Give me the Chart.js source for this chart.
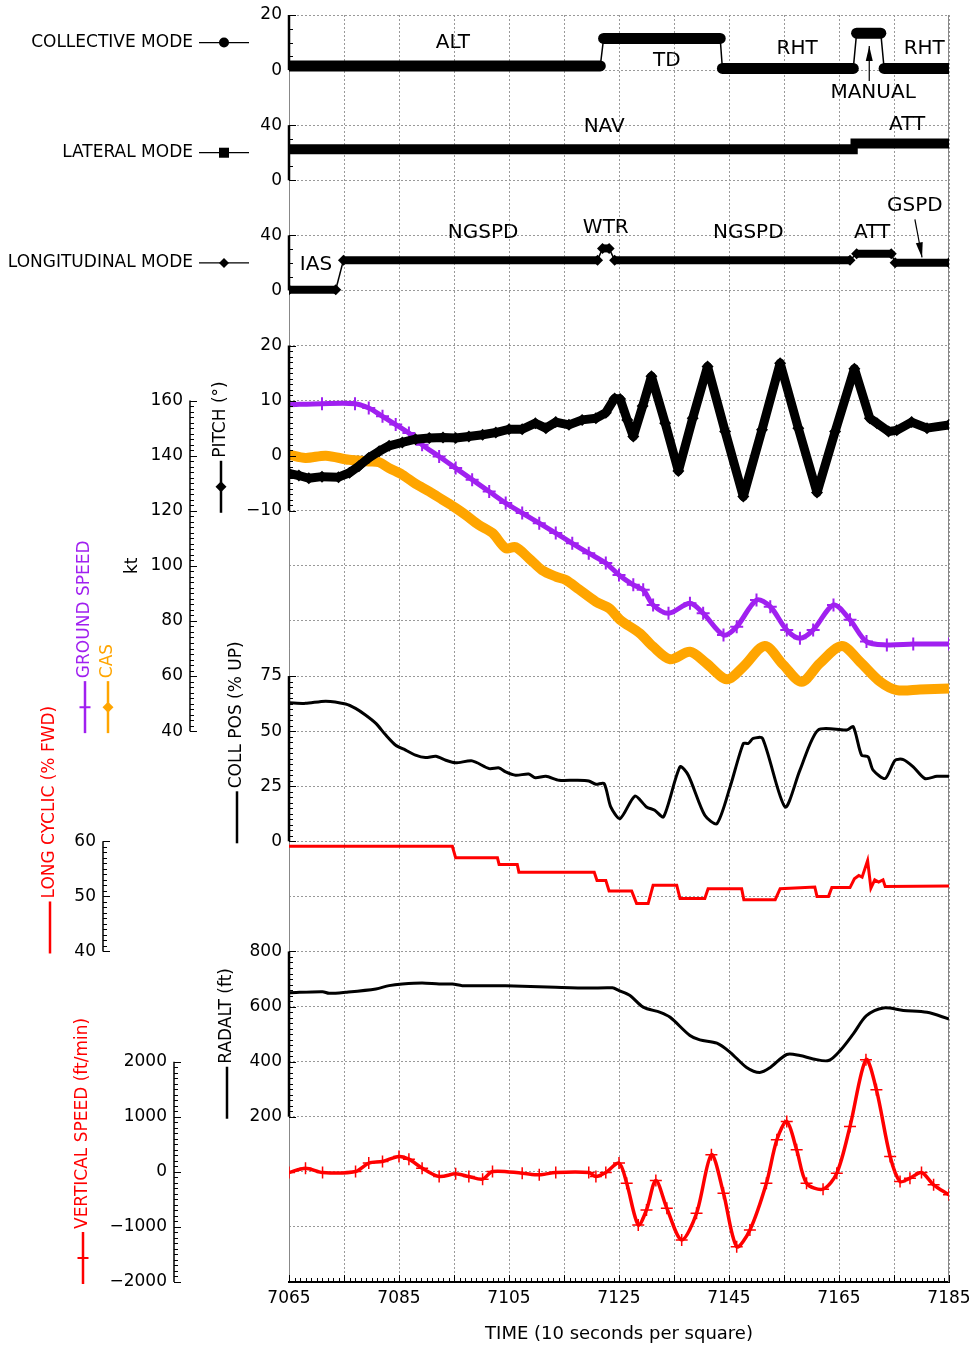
<!DOCTYPE html>
<html>
<head>
<meta charset="utf-8">
<script src="https://cdn.jsdelivr.net/npm/chart.js@4.4.1/dist/chart.umd.min.js"></script>
<style>
  html, body { margin: 0; padding: 0; background: #fff; }
  canvas { display: block; }
</style>
</head>
<body>
<canvas id="flight" width="974" height="1347"></canvas>
<script>
// ---- data: [time (s), value] ----
const collectiveMode = [[7065,1.5],[7121.6,1.5],[7122.2,11.5],[7143.4,11.5],[7143.8,0.6],[7167.6,0.6],[7168.2,13.4],[7172.6,13.4],[7173.2,0.6],[7185,0.6]];
const lateralMode = [[7065,22.5],[7167.5,22.5],[7168,26.7],[7185,26.7]];
const longitudinalMode = [[7065,0.5],[7073.5,0.5],[7074.9,22],[7121.1,22],[7122,30.5],[7123.2,30.5],[7124.2,22],[7167,22],[7168.2,26.7],[7174.5,26.7],[7175.2,20.1],[7185,20.1]];

const pitch = [[7065,-3.2],[7066.8,-3.6],[7068.6,-4.1],[7071,-3.8],[7074,-3.9],[7076,-3.1],[7077.7,-1.9],[7079.5,-0.4],[7081.4,0.8],[7083.2,1.8],[7085.6,2.4],[7088,3.0],[7090.5,3.2],[7093,3.3],[7095.3,3.2],[7097.7,3.5],[7100.2,3.8],[7102.6,4.2],[7105,4.8],[7107.4,4.8],[7109.8,5.9],[7111.7,5.0],[7113.5,6.1],[7115.9,5.6],[7118.3,6.5],[7120.8,6.8],[7122.6,7.8],[7124.2,10.4],[7125.2,10.3],[7126.5,6.5],[7127.6,3.5],[7129.3,9.0],[7130.9,14.4],[7133.4,5.9],[7135.8,-2.8],[7138.4,6.8],[7141.1,16.2],[7144.3,4.4],[7147.6,-7.4],[7151,4.7],[7154.3,16.8],[7157.6,5.0],[7161,-6.7],[7164.3,4.4],[7167.8,15.8],[7170.6,6.8],[7171.9,5.9],[7174,4.4],[7175.5,4.6],[7178.2,6.1],[7181,5.0],[7185,5.6]];

const groundSpeed = [[7065,158.5],[7071,158.9],[7077,158.9],[7079.5,157.3],[7082,154.3],[7084.4,151.3],[7086.8,148.2],[7089.2,144],[7092.3,139.7],[7095.3,135.5],[7098.3,131.3],[7101.4,127],[7104.4,122.8],[7107.4,119.2],[7110.5,115.5],[7113.5,111.9],[7116.5,108.2],[7119.5,104.6],[7122.6,101],[7125,96.7],[7127.6,93.1],[7129.4,91.3],[7131.2,85.8],[7134,82.8],[7137.9,86.4],[7140.3,82.8],[7144,74.9],[7146.4,77.9],[7150,87.6],[7152.5,85.2],[7155.5,76.7],[7157.9,73.7],[7160.3,76.7],[7164,85.8],[7167,80.4],[7170,72.5],[7173.7,71.3],[7178.5,71.6],[7185,71.6]];

const cas = [[7065,140.4],[7068,139.2],[7071.7,140],[7075.9,138.5],[7079.5,137.9],[7081.4,137.6],[7083.2,135.5],[7085.6,133.1],[7088,129.8],[7090.5,127],[7092.9,124],[7095.3,121],[7097.1,118.5],[7099.5,114.9],[7102,111.9],[7104.4,106.4],[7106.2,106.8],[7108.6,102.8],[7111,98.5],[7113.5,96.1],[7115.3,94.9],[7117.7,91.5],[7120.8,87],[7123.2,84.6],[7125.2,80.4],[7128.8,75.5],[7131.2,70.7],[7134.3,66.1],[7137.9,68.8],[7140.9,64.6],[7144.6,58.8],[7147.6,63.4],[7151.5,70.9],[7154.9,64],[7158.2,57.9],[7161.5,64.6],[7165.5,70.9],[7168.8,65.2],[7172.5,57.9],[7175.5,54.9],[7179.7,55.1],[7185,55.5]];

const collPos = [[7065,62.9],[7068,62.6],[7071.7,63.6],[7075.3,62.3],[7077.1,60.3],[7078.9,57.3],[7080.8,53.5],[7082.6,48.2],[7084.4,43.6],[7086.2,41.4],[7088,39.1],[7089.8,38],[7091.7,38.6],[7093.5,36.8],[7095.3,35.6],[7098.3,36.5],[7101.4,33],[7103.2,33.3],[7104.4,31.5],[7106.2,30],[7108.6,30.5],[7109.8,28.8],[7111.7,29.5],[7114.1,27.7],[7117.1,27.7],[7119.5,27.4],[7120.8,25.9],[7122.3,26.2],[7123.5,15.6],[7125.2,10.3],[7127.9,20.5],[7130,15.6],[7131.5,14.1],[7133.1,11.1],[7136.1,33.8],[7137.6,30],[7140.6,11.8],[7142.8,8.0],[7145.2,24.7],[7147.6,44.4],[7148.5,44.4],[7149.4,46.7],[7151.1,46.7],[7155.2,15.6],[7157.9,32.3],[7161.2,50.5],[7166.4,50.5],[7167.6,52],[7169.1,39.1],[7170.3,38.3],[7171.2,32.3],[7173.4,28.5],[7175.2,36.8],[7176.7,37.1],[7178.5,33.8],[7180.6,28.5],[7182.8,29.5],[7185,29.5]];

const longCyclic = [[7065,59.1],[7094.7,59.1],[7095.3,57],[7102.9,57],[7103.2,55.8],[7106.5,55.8],[7106.8,54.4],[7120.5,54.4],[7121,52.9],[7122.6,52.9],[7123.2,51],[7127.3,51],[7128.2,48.7],[7130.3,48.7],[7131.2,52],[7135.5,52],[7136.1,49.6],[7140.6,49.6],[7141.2,51.4],[7147.3,51.4],[7147.7,49.4],[7153.4,49.4],[7154.3,51.4],[7160.6,51.7],[7161,50],[7163.1,50],[7163.7,51.6],[7167,51.6],[7167.8,53.2],[7168.6,53.8],[7169.2,53.5],[7170.2,56.5],[7170.8,51.5],[7171.5,53],[7172.2,52.6],[7173,53],[7173.4,51.8],[7185,51.9]];

const radalt = [[7065,650],[7071.1,654],[7072.3,648],[7075.3,652],[7080.8,664],[7083.2,676],[7085.6,682],[7089.2,686],[7092.3,682],[7094.7,682],[7096.5,676],[7101.4,676],[7107.4,674],[7113.5,670],[7119.5,667],[7123.8,668],[7125,658],[7127,640],[7129.4,598],[7132.5,579],[7134.3,561],[7137.9,495],[7139.7,479],[7142.8,467],[7145.2,434],[7148.2,379],[7150.6,361],[7152.5,379],[7155.5,426],[7157.9,422],[7160.3,410],[7163.1,404],[7165.2,440],[7167.6,501],[7170,567],[7173.1,595],[7176.7,586],[7181,579],[7185,555]];

const verticalSpeed = [[7065,-12],[7068,67],[7071.1,-12],[7077.1,6],[7079.5,158],[7082,188],[7085,279],[7086.8,230],[7089.2,67],[7092.3,-85],[7095.3,-36],[7097.7,-85],[7100.2,-133],[7102,6],[7107.4,-24],[7110.5,-55],[7113.5,-12],[7119.5,-12],[7120.8,-85],[7122.6,-12],[7125,158],[7126.4,-206],[7128.5,-964],[7130,-691],[7131.7,-158],[7133.7,-661],[7136.4,-1236],[7139.1,-752],[7141.8,309],[7144,-388],[7146.4,-1358],[7148.8,-1055],[7151.8,-206],[7153.7,582],[7155.5,915],[7157.3,400],[7159.1,-206],[7162.1,-315],[7164.6,-24],[7167,824],[7169.9,2036],[7171.8,1491],[7174.3,279],[7176.1,-176],[7177.9,-115],[7180,-12],[7182.2,-236],[7185,-418]];

// tick labels of each axis
const timeTicks = [7065, 7085, 7105, 7125, 7145, 7165, 7185];
const collModeTicks = [0, 20];
const latModeTicks = [0, 40];
const lonModeTicks = [0, 40];
const pitchTicks = [-10, 0, 10, 20];
const speedTicks = [40, 60, 80, 100, 120, 140, 160];
const collPosTicks = [0, 25, 50, 75];
const cyclicTicks = [40, 50, 60];
const radaltTicks = [200, 400, 600, 800];
const vsTicks = [-2000, -1000, 0, 1000, 2000];

// mode annotations: [text, axis, time, value]
const modeNotes = [
  ['ALT','yColl',7094.8,9.8], ['TD','yColl',7133.7,3.3], ['RHT','yColl',7157.4,7.6],
  ['MANUAL','yColl',7171.2,-8.4], ['RHT','yColl',7180.5,7.6],
  ['NAV','yLat',7122.3,38.5], ['ATT','yLat',7177.4,40],
  ['IAS','yLon',7069.9,18.9], ['NGSPD','yLon',7100.3,41.5], ['WTR','yLon',7122.6,45.8],
  ['NGSPD','yLon',7148.5,41.5], ['ATT','yLon',7171,42.2], ['GSPD','yLon',7178.8,61.1]
];
// arrows: [axis, t0, v0, t1, v1] head at t1/v1
const modeArrows = [
  ['yColl',7170.5,-4,7170.5,8.7],
  ['yLon',7178.8,51.6,7180.1,24]
];

const RED = '#ff0000', PURPLE = '#a020f0', ORANGE = '#ffa500';
const FONT = 'DejaVu Sans';
Chart.defaults.font.family = FONT;

const xy = arr => arr.map(([x, y]) => ({x, y}));
const stepWidth = (thick) => ctx => ctx.p0.parsed.y === ctx.p1.parsed.y ? thick : 1.5;

// side axes drawn at chosen x positions (null = plot left edge)
const sideAxes = [
  {id:'yColl', x:null, ticks:collModeTicks, minor:5},
  {id:'yLat', x:null, ticks:latModeTicks, minor:10},
  {id:'yLon', x:null, ticks:lonModeTicks, minor:10},
  {id:'yPitch', x:null, ticks:pitchTicks, minor:1},
  {id:'ySpd', x:190, ticks:speedTicks, minor:2},
  {id:'yCollPos', x:null, ticks:collPosTicks, minor:2.5},
  {id:'yCyc', x:103, ticks:cyclicTicks, minor:1},
  {id:'yRad', x:null, ticks:radaltTicks, minor:20},
  {id:'yVs', x:174, ticks:vsTicks, minor:100}
];

const sideLabels = [
  {text:'PITCH (°)', color:'#000', x:221, axis:'yPitch', v:-10, marker:'diamond'},
  {text:'GROUND SPEED', color:PURPLE, x:85, axis:'ySpd', v:40, marker:'plus'},
  {text:'CAS', color:ORANGE, x:108, axis:'ySpd', v:40, marker:'diamond'},
  {text:'COLL POS (% UP)', color:'#000', x:237, axis:'yCollPos', v:0},
  {text:'LONG CYCLIC (% FWD)', color:RED, x:50, axis:'yCyc', v:40},
  {text:'RADALT (ft)', color:'#000', x:227, axis:'yRad', v:200},
  {text:'VERTICAL SPEED (ft/min)', color:RED, x:83, axis:'yVs', v:-2000, marker:'plus'}
];

const modeLegend = [
  {text:'COLLECTIVE MODE', axis:'yColl', v:10, marker:'circle'},
  {text:'LATERAL MODE', axis:'yLat', v:20, marker:'square'},
  {text:'LONGITUDINAL MODE', axis:'yLon', v:20, marker:'diamond'}
];

function marker(ctx, kind, x, y, r, color) {
  ctx.save();
  ctx.fillStyle = color; ctx.strokeStyle = color;
  ctx.beginPath();
  if (kind === 'circle') { ctx.arc(x, y, r, 0, Math.PI * 2); ctx.fill(); }
  else if (kind === 'square') { ctx.fillRect(x - r, y - r, 2 * r, 2 * r); }
  else if (kind === 'diamond') {
    ctx.moveTo(x, y - r); ctx.lineTo(x + r, y); ctx.lineTo(x, y + r); ctx.lineTo(x - r, y);
    ctx.closePath(); ctx.fill();
  } else if (kind === 'plus') {
    ctx.lineWidth = 2;
    ctx.moveTo(x - r, y); ctx.lineTo(x + r, y); ctx.moveTo(x, y - r); ctx.lineTo(x, y + r);
    ctx.stroke();
  }
  ctx.restore();
}

const fmt = v => String(v).replace('-', '\u2212');

const decorations = {
  id: 'decorations',
  beforeDatasetsDraw(chart) {
    const {ctx, chartArea: a} = chart;
    ctx.save();
    ctx.strokeStyle = '#888'; ctx.lineWidth = 1;
    ctx.beginPath();
    ctx.moveTo(a.left + 0.5, a.top); ctx.lineTo(a.left + 0.5, a.bottom);
    ctx.moveTo(a.right - 0.5, a.top); ctx.lineTo(a.right - 0.5, a.bottom);
    ctx.stroke();
    ctx.restore();
  },
  afterDatasetsDraw(chart) {
    const {ctx, chartArea: a} = chart;
    ctx.save();
    ctx.strokeStyle = '#000'; ctx.fillStyle = '#000';
    ctx.font = '17px "' + FONT + '"';
    ctx.textAlign = 'right'; ctx.textBaseline = 'middle';
    sideAxes.forEach(ax => {
      const s = chart.scales[ax.id];
      const x = ax.x === null ? a.left : ax.x;
      const lo = ax.ticks[0], hi = ax.ticks[ax.ticks.length - 1];
      const major = ax.ticks[1] - ax.ticks[0];
      ctx.lineWidth = ax.x === null ? 2.5 : 1.5;
      ctx.beginPath();
      ctx.moveTo(x, s.getPixelForValue(lo)); ctx.lineTo(x, s.getPixelForValue(hi));
      ctx.stroke();
      ctx.lineWidth = 1;
      ctx.beginPath();
      const n = Math.round((hi - lo) / ax.minor);
      for (let i = 0; i <= n; i++) {
        const v = lo + i * ax.minor;
        const y = Math.round(s.getPixelForValue(v)) + 0.5;
        const isMajor = Math.abs((v - lo) / major - Math.round((v - lo) / major)) < 1e-6;
        ctx.moveTo(x, y); ctx.lineTo(x + (isMajor ? 7 : 4), y);
      }
      ctx.stroke();
      ax.ticks.forEach(v => ctx.fillText(fmt(v), x - 7, s.getPixelForValue(v)));
    });
    // minor ticks on the time axis, one per second
    const xs = chart.scales.x;
    ctx.lineWidth = 1;
    ctx.beginPath();
    for (let t = xs.min; t <= xs.max; t++) {
      const px = Math.round(xs.getPixelForValue(t)) + 0.5;
      const len = (t - xs.min) % 10 === 0 ? 7 : 4;
      ctx.moveTo(px, a.bottom); ctx.lineTo(px, a.bottom - len);
    }
    ctx.stroke();
    ctx.restore();
  },
  afterDraw(chart) {
    const {ctx} = chart;
    const xs = chart.scales.x;
    ctx.save();
    // mode notes
    ctx.fillStyle = '#000'; ctx.strokeStyle = '#000';
    ctx.font = '20px "' + FONT + '"';
    ctx.textAlign = 'center'; ctx.textBaseline = 'middle';
    modeNotes.forEach(([txt, id, t, v]) => {
      ctx.fillText(txt, xs.getPixelForValue(t), chart.scales[id].getPixelForValue(v));
    });
    modeArrows.forEach(([id, t0, v0, t1, v1]) => {
      const s = chart.scales[id];
      const x0 = xs.getPixelForValue(t0), y0 = s.getPixelForValue(v0);
      const x1 = xs.getPixelForValue(t1), y1 = s.getPixelForValue(v1);
      const ang = Math.atan2(y1 - y0, x1 - x0);
      ctx.lineWidth = 1.2;
      ctx.beginPath(); ctx.moveTo(x0, y0); ctx.lineTo(x1, y1); ctx.stroke();
      ctx.beginPath();
      ctx.moveTo(x1, y1);
      ctx.lineTo(x1 - 15 * Math.cos(ang) + 3.5 * Math.sin(ang), y1 - 15 * Math.sin(ang) - 3.5 * Math.cos(ang));
      ctx.lineTo(x1 - 15 * Math.cos(ang) - 3.5 * Math.sin(ang), y1 - 15 * Math.sin(ang) + 3.5 * Math.cos(ang));
      ctx.closePath(); ctx.fill();
    });
    // mode legend on the left
    ctx.font = '17px "' + FONT + '"';
    ctx.textAlign = 'right';
    modeLegend.forEach(m => {
      const y = chart.scales[m.axis].getPixelForValue(m.v);
      ctx.fillText(m.text, 193, y);
      ctx.lineWidth = 1.2;
      ctx.beginPath(); ctx.moveTo(199, y); ctx.lineTo(249, y); ctx.stroke();
      marker(ctx, m.marker, 224, y, 5, '#000');
    });
    // rotated series labels
    sideLabels.forEach(l => {
      const yb = chart.scales[l.axis].getPixelForValue(l.v) + 2;
      const yt = yb - 52;
      ctx.strokeStyle = l.color; ctx.fillStyle = l.color;
      ctx.lineWidth = 2.5;
      ctx.beginPath(); ctx.moveTo(l.x, yb); ctx.lineTo(l.x, yt); ctx.stroke();
      if (l.marker) marker(ctx, l.marker, l.x, (yb + yt) / 2, 5.5, l.color);
      ctx.save();
      ctx.translate(l.x, yt - 3); ctx.rotate(-Math.PI / 2);
      ctx.textAlign = 'left'; ctx.textBaseline = 'middle';
      ctx.fillText(l.text, 0, 0);
      ctx.restore();
    });
    // "kt" for the speed axis
    ctx.fillStyle = '#000';
    ctx.save();
    ctx.translate(133, chart.scales.ySpd.getPixelForValue(100));
    ctx.rotate(-Math.PI / 2);
    ctx.textAlign = 'center'; ctx.textBaseline = 'middle';
    ctx.fillText('kt', 0, 0);
    ctx.restore();
    ctx.restore();
  }
};

const hidden = (min, max) => ({type: 'linear', display: false, min, max});

new Chart(document.getElementById('flight'), {
  type: 'line',
  data: {
    datasets: [
      {label:'COLLECTIVE MODE', yAxisID:'yColl', data:xy(collectiveMode), borderColor:'#000', backgroundColor:'#000',
       borderCapStyle:'round', pointRadius:0, segment:{borderWidth: stepWidth(11)}},
      {label:'LATERAL MODE', yAxisID:'yLat', data:xy(lateralMode), borderColor:'#000', backgroundColor:'#000',
       borderCapStyle:'square', pointRadius:0, segment:{borderWidth: stepWidth(10)}},
      {label:'LONGITUDINAL MODE', yAxisID:'yLon', data:xy(longitudinalMode), borderColor:'#000', backgroundColor:'#000',
       borderCapStyle:'butt', pointStyle:'rectRot', pointRadius:5.5, pointBorderWidth:0, segment:{borderWidth: stepWidth(8)}},
      {label:'PITCH', yAxisID:'yPitch', data:xy(pitch), borderColor:'#000', backgroundColor:'#000', borderWidth:9,
       borderJoinStyle:'round', pointStyle:'rectRot', pointRadius:6, pointBorderWidth:0},
      {label:'GROUND SPEED', yAxisID:'ySpd', data:xy(groundSpeed), borderColor:PURPLE, backgroundColor:PURPLE, borderWidth:5,
       tension:0.3, pointStyle:'cross', pointRadius:6.5, pointBorderWidth:2},
      {label:'CAS', yAxisID:'ySpd', data:xy(cas), borderColor:ORANGE, backgroundColor:ORANGE, borderWidth:10,
       tension:0.3, borderJoinStyle:'round', pointRadius:0},
      {label:'COLL POS', yAxisID:'yCollPos', data:xy(collPos), borderColor:'#000', borderWidth:3, tension:0.25, pointRadius:0},
      {label:'LONG CYCLIC', yAxisID:'yCyc', data:xy(longCyclic), borderColor:RED, borderWidth:3, pointRadius:0},
      {label:'RADALT', yAxisID:'yRad', data:xy(radalt), borderColor:'#000', borderWidth:3, tension:0.3, pointRadius:0},
      {label:'VERTICAL SPEED', yAxisID:'yVs', data:xy(verticalSpeed), borderColor:RED, backgroundColor:RED, borderWidth:3.5,
       tension:0.3, pointStyle:'cross', pointRadius:6, pointBorderWidth:1.5}
    ]
  },
  options: {
    responsive: false,
    animation: false,
    devicePixelRatio: 1,
    layout: {padding: {left: 289, right: 25, top: 15, bottom: 0}},
    plugins: {legend: {display: false}, tooltip: {enabled: false}},
    scales: {
      x: {
        type: 'linear', position: 'bottom', min: 7065, max: 7185,
        afterFit(s) { s.height = 65; s.paddingLeft = 0; s.paddingRight = 0; },
        ticks: {
          stepSize: 10, autoSkip: false, maxRotation: 0, padding: 6, color: '#000',
          font: {size: 17},
          callback: v => timeTicks.includes(v) ? String(v) : ''
        },
        grid: {color: '#999', lineWidth: 1, drawTicks: false},
        border: {display: true, color: '#000', width: 2, dash: [2, 2]},
        title: {display: true, text: 'TIME (10 seconds per square)', color: '#000',
                font: {size: 18}, padding: {top: 0, bottom: 2}}
      },
      yGrid: {
        type: 'linear', position: 'left', min: 0, max: 23,
        afterFit(s) { s.width = 0; },
        ticks: {display: false, stepSize: 1},
        grid: {color: '#999', lineWidth: 1, drawTicks: false},
        border: {display: false, dash: [2, 2]}
      },
      yColl: hidden(-440, 20),
      yLat: hidden(-800, 120),
      yLon: hidden(-720, 200),
      yPitch: hidden(-150, 80),
      ySpd: hidden(-160, 300),
      yCollPos: hidden(-200, 375),
      yCyc: hidden(-20, 210),
      yRad: hidden(-400, 4200),
      yVs: hidden(-2000, 21000)
    }
  },
  plugins: [decorations]
});
</script>
</body>
</html>
